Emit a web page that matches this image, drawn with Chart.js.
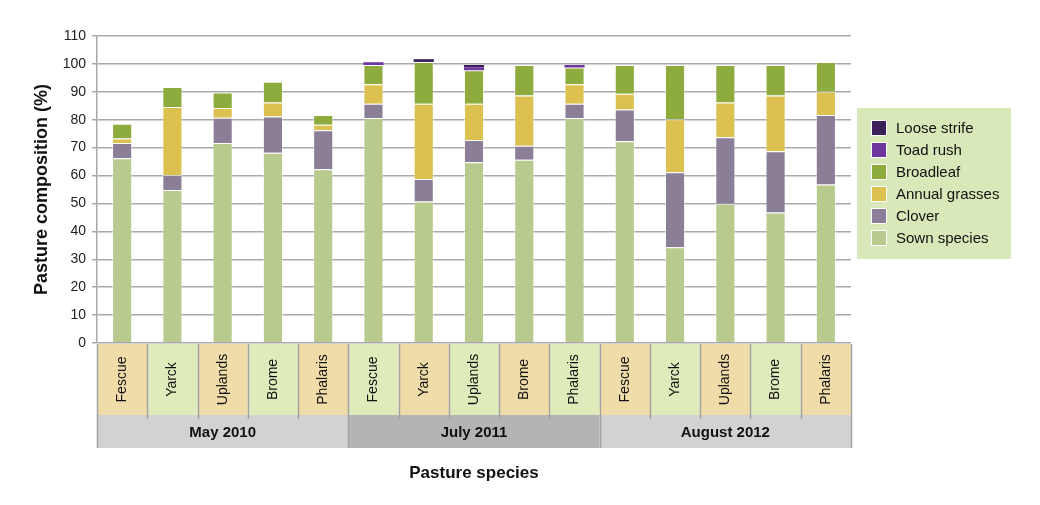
<!DOCTYPE html>
<html>
<head>
<meta charset="utf-8">
<script src="https://cdn.jsdelivr.net/npm/chart.js@4"></script>
<style>
  html, body { margin: 0; padding: 0; background: #fff; }
  #wrap { width: 1040px; height: 505px; position: relative; }
</style>
</head>
<body>
<div id="wrap"><canvas id="pastureChart" width="1040" height="505"></canvas></div>
<script>
'use strict';

var species = ['Fescue', 'Yarck', 'Uplands', 'Brome', 'Phalaris',
               'Fescue', 'Yarck', 'Uplands', 'Brome', 'Phalaris',
               'Fescue', 'Yarck', 'Uplands', 'Brome', 'Phalaris'];
var periods = ['May 2010', 'July 2011', 'August 2012'];
var periodSize = [5, 5, 5];
var yTicks = [0, 10, 20, 30, 40, 50, 60, 70, 80, 90, 100, 110];

var sown      = [66.2, 54.8, 71.7, 68.2, 62.3,  80.6, 50.7, 64.8, 65.7, 80.6,  72.3, 34.3, 49.9, 46.8, 56.8];
var clover    = [5.5, 5.4, 9.0, 13.0, 13.9,     5.1, 8.1, 7.9, 5.0, 5.1,       11.4, 26.9, 23.8, 21.9, 24.9];
var annual    = [1.6, 24.4, 3.5, 5.0, 2.0,      7.0, 26.9, 13.0, 18.0, 7.0,    5.6, 19.0, 12.5, 20.0, 8.4];
var broadleaf = [5.3, 7.1, 5.6, 7.4, 3.5,       6.9, 15.0, 12.0, 10.9, 6.0,    10.3, 19.4, 13.4, 10.9, 10.6];
var toadRush  = [0, 0, 0, 0, 0,                 1.0, 0, 1.0, 0, 0.9,           0, 0, 0, 0, 0];
var looseStrife = [0, 0, 0, 0, 0,               0, 1.0, 0.9, 0, 0,             0, 0, 0, 0, 0];

var speciesBoxColors = ['#efdca8', '#e0ebbb'];
var periodBoxColors = ['#d3d2d2', '#b4b4b4', '#d3d2d2'];

// category boxes under the plot + custom legend panel
var boxesPlugin = {
    id: 'boxes',
    afterDraw: function (chart) {
        var ctx = chart.ctx;
        var x = chart.scales.x;
        var area = chart.chartArea;
        var w = (area.right - area.left) / species.length;
        var top = area.bottom + 1, mid = 415, bot = 448;

        ctx.save();
        // species row
        for (var i = 0; i < species.length; i++) {
            var cx = x.getPixelForValue(i);
            ctx.fillStyle = speciesBoxColors[i % 2];
            ctx.fillRect(cx - w / 2, top, w, mid - top);
            ctx.save();
            ctx.translate(cx, (top + mid) / 2);
            ctx.rotate(-Math.PI / 2);
            ctx.fillStyle = '#111';
            ctx.font = '14px "Liberation Sans", Arial, sans-serif';
            ctx.textAlign = 'center';
            ctx.textBaseline = 'middle';
            ctx.fillText(species[i], 0, 0);
            ctx.restore();
        }
        // period row
        var start = 0;
        for (var p = 0; p < periods.length; p++) {
            var x0 = area.left + start * w;
            var x1 = x0 + periodSize[p] * w;
            ctx.fillStyle = periodBoxColors[p];
            ctx.fillRect(x0, mid, x1 - x0, bot - mid);
            ctx.fillStyle = '#111';
            ctx.font = 'bold 15px "Liberation Sans Narrow", "Liberation Sans", Arial, sans-serif';
            ctx.textAlign = 'center';
            ctx.textBaseline = 'middle';
            ctx.fillText(periods[p], (x0 + x1) / 2, (mid + bot) / 2 + 1);
            start += periodSize[p];
        }
        // dividers
        ctx.strokeStyle = '#a3a3a3';
        ctx.lineWidth = 1.5;
        ctx.beginPath();
        for (var j = 0; j <= species.length; j++) {
            var bx = Math.round(area.left + j * w) + 0.5;
            ctx.moveTo(bx, top);
            ctx.lineTo(bx, mid + 4);
        }
        start = 0;
        for (var q = 0; q <= periods.length; q++) {
            var gx = Math.round(area.left + start * w) + 0.5;
            ctx.moveTo(gx, mid);
            ctx.lineTo(gx, bot);
            if (q < periods.length) start += periodSize[q];
        }
        ctx.stroke();

        // x axis title
        ctx.fillStyle = '#111';
        ctx.font = 'bold 17px "Liberation Sans Narrow", "Liberation Sans", Arial, sans-serif';
        ctx.textAlign = 'center';
        ctx.textBaseline = 'middle';
        ctx.fillText('Pasture species', (area.left + area.right) / 2, 473);

        // legend panel
        var lx = 857, ly = 108, lw = 154, lh = 151;
        ctx.fillStyle = '#d9e8b9';
        ctx.fillRect(lx, ly, lw, lh);
        var sets = chart.data.datasets.slice().reverse();
        ctx.font = '15px "Liberation Sans", Arial, sans-serif';
        ctx.textAlign = 'left';
        for (var k = 0; k < sets.length; k++) {
            var sy = 121 + k * 22;
            ctx.fillStyle = '#fff';
            ctx.fillRect(871, sy - 1, 16, 16);
            ctx.fillStyle = sets[k].backgroundColor;
            ctx.fillRect(872, sy, 14, 14);
            ctx.fillStyle = '#111';
            ctx.fillText(sets[k].label, 896, sy + 8);
        }
        ctx.restore();
    }
};

var edge = 'rgba(255, 255, 255, 0.45)';

new Chart(document.getElementById('pastureChart'), {
    type: 'bar',
    data: {
        labels: species,
        datasets: [
            { label: 'Sown species', data: sown, backgroundColor: '#b8ca8d', borderColor: edge, borderWidth: 1 },
            { label: 'Clover', data: clover, backgroundColor: '#8b7e97', borderColor: edge, borderWidth: 1 },
            { label: 'Annual grasses', data: annual, backgroundColor: '#dcc150', borderColor: edge, borderWidth: 1 },
            { label: 'Broadleaf', data: broadleaf, backgroundColor: '#8eab3e', borderColor: edge, borderWidth: 1 },
            { label: 'Toad rush', data: toadRush, backgroundColor: '#7036a0', borderColor: edge, borderWidth: 0 },
            { label: 'Loose strife', data: looseStrife, backgroundColor: '#3b1f5b', borderColor: edge, borderWidth: 0 }
        ]
    },
    options: {
        responsive: false,
        animation: false,
        devicePixelRatio: 1,
        barPercentage: 0.4,
        categoryPercentage: 1,
        layout: { padding: { top: 36, left: 31, right: 189, bottom: 162 } },
        plugins: {
            legend: { display: false },
            tooltip: { enabled: false }
        },
        scales: {
            x: {
                stacked: true,
                display: false
            },
            y: {
                stacked: true,
                min: 0,
                max: 110,
                afterFit: function (scale) { scale.width = 66; },
                afterBuildTicks: function (scale) {
                    scale.ticks = yTicks.map(function (v) { return { value: v }; });
                },
                ticks: {
                    color: '#222',
                    padding: 6,
                    font: { family: '"Liberation Sans", Arial, sans-serif', size: 14 }
                },
                grid: { color: '#a9a9a9', lineWidth: 1.5, tickLength: 5 },
                border: { color: '#a9a9a9', width: 1.5 },
                title: {
                    display: true,
                    text: 'Pasture composition (%)',
                    color: '#111',
                    padding: { top: 0, bottom: 6 },
                    font: { family: '"Liberation Sans", Arial, sans-serif', size: 18, weight: 'bold' }
                }
            }
        }
    },
    plugins: [boxesPlugin]
});
</script>
</body>
</html>
